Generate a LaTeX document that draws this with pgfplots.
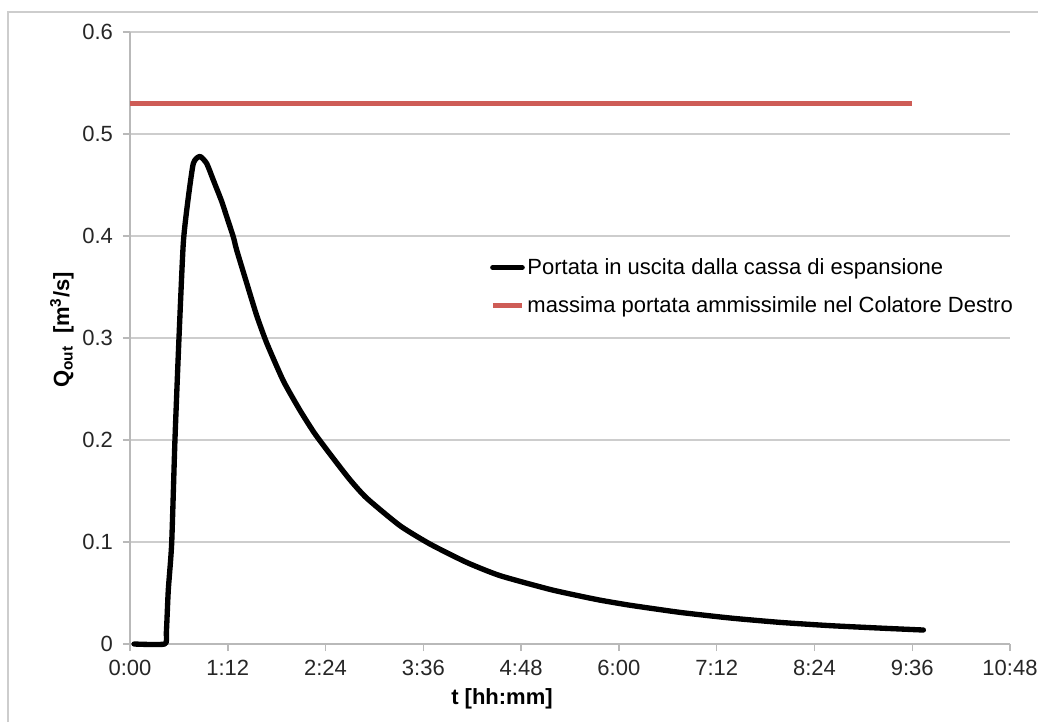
\documentclass[border=0pt]{standalone}
\usepackage{fontspec}
\setmainfont{Liberation Sans}
\usepackage{pgfplots}
\pgfplotsset{compat=1.18}
\definecolor{gridgray}{RGB}{205,205,205}
\definecolor{axgray}{RGB}{185,185,185}
\definecolor{limred}{RGB}{206,92,86}
\begin{document}
\begin{tikzpicture}
\useasboundingbox (-97.5pt,-58.5pt) rectangle (681pt,483pt);
\draw[gridgray, line width=1.5pt] (-91.5pt,-58.5pt) -- (-91.5pt,474pt) -- (681pt,474pt);
\begin{axis}[
  at={(0pt,0pt)}, anchor=origin,
  scale only axis, width=660pt, height=459pt,
  xmin=0, xmax=648, ymin=0, ymax=0.6,
  axis x line*=bottom, axis y line*=left,
  axis line style={axgray, line width=1.1pt, -},
  xtick={0,72,144,216,288,360,432,504,576,648},
  xticklabels={0:00,1:12,2:24,3:36,4:48,6:00,7:12,8:24,9:36,10:48},
  ytick={0,0.1,0.2,0.3,0.4,0.5,0.6},
  yticklabels={0,0.1,0.2,0.3,0.4,0.5,0.6},
  tick align=outside, major tick length=5.25pt,
  tick style={axgray, line width=1.1pt},
  ymajorgrids, major grid style={gridgray, line width=1.1pt},
  ticklabel style={font=\fontsize{16.5}{19}\selectfont, text=black!85},
  yticklabel style={xshift=-4pt},
  xticklabel style={yshift=-3pt},
  xlabel style={at={(axis description cs:0.4227,-0.09)}, anchor=center},
  ylabel style={at={(axis description cs:-0.0773,0.513)}, anchor=center},
  xlabel={\fontsize{16.5}{19}\selectfont\bfseries t [hh:mm]},
  ylabel={\fontsize{16.5}{19}\selectfont\bfseries Q\textsubscript{out}\ \ [m\textsuperscript{3}/s]},
  legend style={draw=none, fill=none, at={(axis cs:265,0.3505)}, anchor=west,
    inner sep=0pt, font=\fontsize{16.5}{19}\selectfont, row sep=11pt,
    /tikz/every even column/.append style={column sep=0pt}},
  legend cell align=left,
  legend image code/.code={\draw[#1] (0pt,0pt) -- (22pt,0pt);},
  clip=false,
]
\addplot[black, line width=4pt, line join=round, line cap=round, smooth, tension=0.35] coordinates {
(3,0) (25.5,0) (26.8,0.012) (28.2,0.053) (30.7,0.099) (33.1,0.2) (36.1,0.301)
(39.2,0.392) (42.2,0.43) (46.6,0.471) (51.5,0.478) (56.5,0.471) (61.3,0.455)
(67.5,0.434) (71.2,0.419) (76.1,0.399) (78.6,0.386) (85.9,0.354) (93.3,0.322)
(100.7,0.295) (112.9,0.258) (125.2,0.229) (136.2,0.206) (149.7,0.182)
(162,0.161) (174.3,0.143) (198.8,0.116) (220.9,0.098) (247.9,0.080) (272.5,0.067)
(309.3,0.0535) (331.4,0.047) (346.1,0.043) (368.2,0.038) (405,0.031)
(441.8,0.0255) (478.6,0.0212) (515.5,0.0180) (552.3,0.0156) (584.2,0.0137)
};
\addlegendentry{Portata in uscita dalla cassa di espansione}
\addplot[limred, line width=3.8pt] coordinates {(0,0.53) (576,0.53)};
\addlegendentry{massima portata ammissimile nel Colatore Destro}
\end{axis}
\end{tikzpicture}
\end{document}
